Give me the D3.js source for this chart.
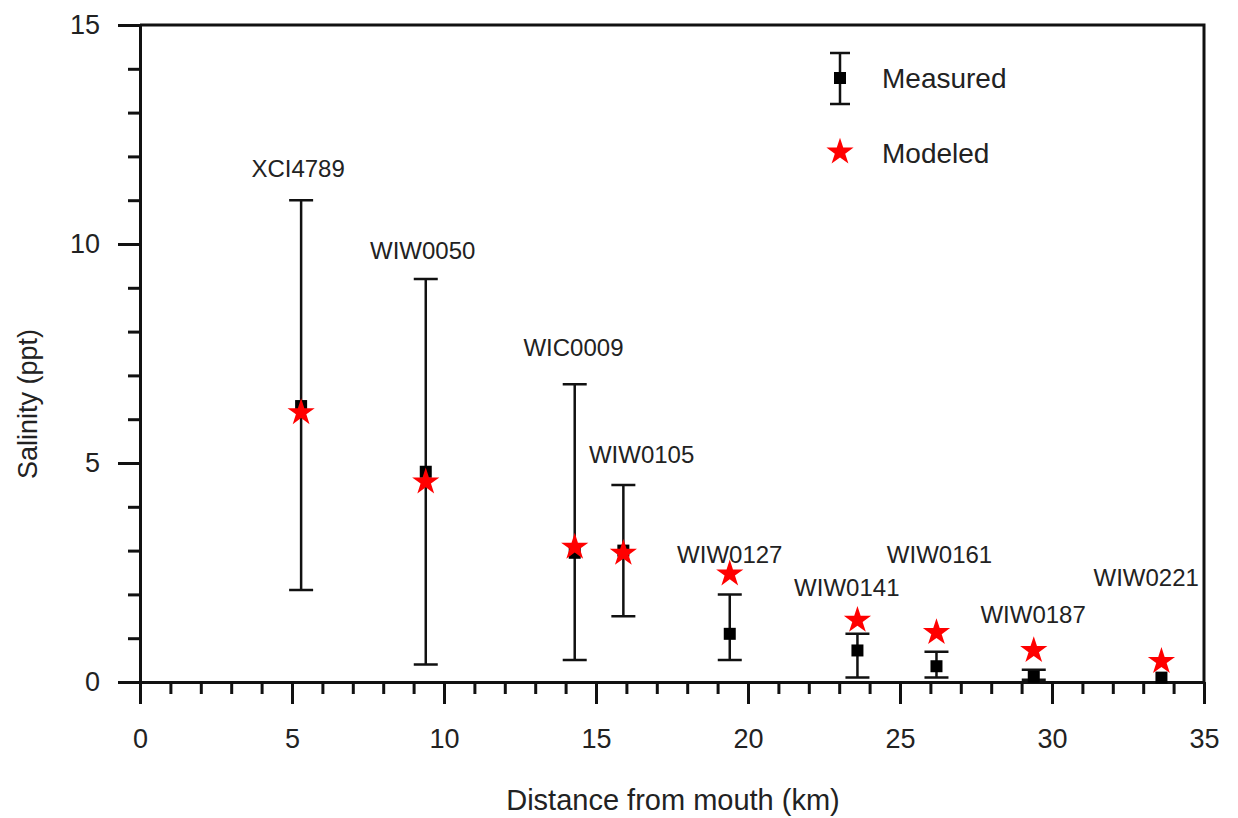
<!DOCTYPE html>
<html>
<head>
<meta charset="utf-8">
<script src="https://cdn.jsdelivr.net/npm/d3@7"></script>
<style>
  body { margin: 0; background: #fff; }
  svg text { font-family: "Liberation Sans", Arial, sans-serif; fill: #222; }
</style>
</head>
<body>
<div id="chart"></div>
<script>
// stations along the river
const stations = ['XCI4789', 'WIW0050', 'WIC0009', 'WIW0105', 'WIW0127', 'WIW0141', 'WIW0161', 'WIW0187', 'WIW0221'];
const distance = [5.3, 9.4, 14.3, 15.9, 19.4, 23.6, 26.2, 29.4, 33.6];
const measured = [6.3, 4.8, 2.95, 3.0, 1.1, 0.72, 0.36, 0.12, 0.1];
const measuredLow = [2.1, 0.4, 0.5, 1.5, 0.5, 0.1, 0.1, 0.05, null];
const measuredHigh = [11.0, 9.2, 6.8, 4.5, 2.0, 1.1, 0.69, 0.28, null];
const modeled = [6.15, 4.57, 3.08, 2.94, 2.47, 1.41, 1.13, 0.72, 0.47];
// label anchors (data units)
const labelX = [5.2, 9.3, 14.26, 16.5, 19.4, 23.25, 26.3, 29.38, 33.1];
const labelY = [11.73, 9.84, 7.63, 5.2, 2.92, 2.16, 2.92, 1.53, 2.39];
const xTicks = [0, 5, 10, 15, 20, 25, 30, 35];
const yTicks = [0, 5, 10, 15];

const width = 1238;
const height = 818;
const margin = { top: 25, right: 34, bottom: 136, left: 140 };

const svg = d3.select('#chart')
  .append('svg')
  .attr('width', width)
  .attr('height', height);

const x = d3.scaleLinear()
  .domain([0, 35])
  .range([margin.left, width - margin.right]);

const y = d3.scaleLinear()
  .domain([0, 15])
  .range([height - margin.bottom, margin.top]);

const rows = stations.map((s, i) => ({
  name: s, d: distance[i], m: measured[i], lo: measuredLow[i], hi: measuredHigh[i],
  mod: modeled[i], lx: labelX[i], ly: labelY[i]
}));

// frame (top + right)
svg.append('path')
  .attr('d', `M${x(0)},${y(15)}H${x(35)}V${y(0)}`)
  .attr('fill', 'none')
  .attr('stroke', '#111')
  .attr('stroke-width', 3);

// minor ticks
svg.append('g')
  .attr('transform', `translate(0,${y(0)})`)
  .call(d3.axisBottom(x).tickValues(d3.range(0, 36, 1)).tickSize(12).tickFormat('').tickSizeOuter(0))
  .call(g => g.select('.domain').remove())
  .call(g => g.selectAll('line').attr('stroke', '#111').attr('stroke-width', 3));

svg.append('g')
  .attr('transform', `translate(${x(0)},0)`)
  .call(d3.axisLeft(y).tickValues(d3.range(0, 16, 1)).tickSize(12).tickFormat('').tickSizeOuter(0))
  .call(g => g.select('.domain').remove())
  .call(g => g.selectAll('line').attr('stroke', '#111').attr('stroke-width', 3));

function xAxis(g) {
  g.attr('transform', `translate(0,${y(0)})`)
    .call(d3.axisBottom(x).tickValues(xTicks).tickSize(22).tickPadding(25).tickSizeOuter(0))
    .call(g => g.select('.domain').attr('stroke', '#111').attr('stroke-width', 3))
    .call(g => g.selectAll('line').attr('stroke', '#111').attr('stroke-width', 3))
    .call(g => g.selectAll('text').attr('font-size', '27px').attr('fill', '#222'));
}

function yAxis(g) {
  g.attr('transform', `translate(${x(0)},0)`)
    .call(d3.axisLeft(y).tickValues(yTicks).tickSize(22).tickPadding(18).tickSizeOuter(0))
    .call(g => g.select('.domain').attr('stroke', '#111').attr('stroke-width', 3))
    .call(g => g.selectAll('line').attr('stroke', '#111').attr('stroke-width', 3))
    .call(g => g.selectAll('text').attr('font-size', '27px').attr('fill', '#222'));
}

svg.append('g').call(xAxis);
svg.append('g').call(yAxis);

// axis titles
svg.append('text')
  .attr('x', 673)
  .attr('y', 810)
  .attr('text-anchor', 'middle')
  .attr('font-size', '29px')
  .text('Distance from mouth (km)');

svg.append('text')
  .attr('transform', 'translate(37,404) rotate(-90)')
  .attr('text-anchor', 'middle')
  .attr('font-size', '27px')
  .text('Salinity (ppt)');

// error bars
const capW = 12;
svg.append('g')
  .attr('stroke', '#111')
  .attr('stroke-width', 2.5)
  .attr('fill', 'none')
  .selectAll('path')
  .data(rows.filter(d => d.lo != null))
  .join('path')
  .attr('d', d => `M${x(d.d)},${y(d.lo)}V${y(d.hi)}` +
    `M${x(d.d) - capW},${y(d.hi)}h${capW * 2}` +
    `M${x(d.d) - capW},${y(d.lo)}h${capW * 2}`);

// measured squares
svg.append('g')
  .selectAll('rect')
  .data(rows)
  .join('rect')
  .attr('x', d => x(d.d) - 6)
  .attr('y', d => y(d.m) - 6)
  .attr('width', 12)
  .attr('height', 12)
  .attr('fill', '#000');

// modeled stars
const star = d3.symbol().type(d3.symbolStar).size(230);
svg.append('g')
  .selectAll('path')
  .data(rows)
  .join('path')
  .attr('transform', d => `translate(${x(d.d)},${y(d.mod)})`)
  .attr('d', star)
  .attr('fill', '#ff0000');

// station labels
svg.append('g')
  .selectAll('text')
  .data(rows)
  .join('text')
  .attr('x', d => x(d.lx))
  .attr('y', d => y(d.ly))
  .attr('dy', '0.35em')
  .attr('text-anchor', 'middle')
  .attr('font-size', '24px')
  .text(d => d.name);

// legend
const leg = svg.append('g');
leg.append('path')
  .attr('d', 'M840,53V104M830,53h20M830,104h20')
  .attr('stroke', '#111')
  .attr('stroke-width', 2.5)
  .attr('fill', 'none');
leg.append('rect')
  .attr('x', 834).attr('y', 72).attr('width', 12).attr('height', 12)
  .attr('fill', '#000');
leg.append('text')
  .attr('x', 882).attr('y', 78).attr('dy', '0.35em')
  .attr('font-size', '28px')
  .text('Measured');
leg.append('path')
  .attr('transform', 'translate(840,152)')
  .attr('d', star)
  .attr('fill', '#ff0000');
leg.append('text')
  .attr('x', 882).attr('y', 153).attr('dy', '0.35em')
  .attr('font-size', '28px')
  .text('Modeled');
</script>
</body>
</html>
